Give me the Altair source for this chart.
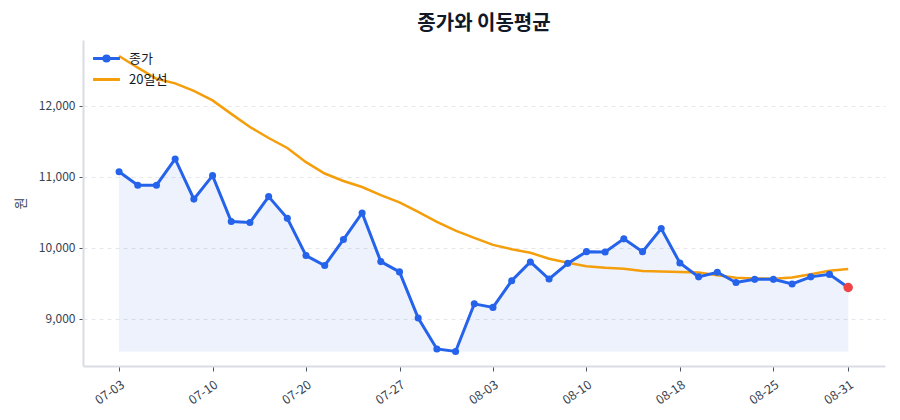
import json

import altair as alt
import pandas as pd

FONT = "Noto Sans CJK KR"

dates = [
    "07-03", "07-04", "07-05", "07-06", "07-07", "07-10", "07-11", "07-13", "07-14", "07-17",
    "07-20", "07-21", "07-24", "07-25", "07-26", "07-27", "07-28", "07-31", "08-01", "08-02",
    "08-03", "08-04", "08-07", "08-08", "08-09", "08-10", "08-11", "08-14", "08-16", "08-17",
    "08-18", "08-21", "08-22", "08-23", "08-24", "08-25", "08-28", "08-29", "08-30", "08-31",
]
close = [
    11070, 10880, 10880, 11250, 10685, 11015, 10370, 10355, 10720, 10415,
    9890, 9750, 10115, 10490, 9805, 9660, 9010, 8575, 8540, 9210,
    9160, 9535, 9800, 9560, 9780, 9945, 9940, 10125, 9945, 10270,
    9785, 9590, 9655, 9510, 9555, 9555, 9490, 9590, 9625, 9440,
]
ma20 = [
    12700, 12535, 12380, 12315, 12210, 12075, 11885, 11700, 11545, 11405,
    11205, 11045, 10940, 10855, 10740, 10640, 10505, 10365, 10240, 10140,
    10040, 9980, 9930, 9845, 9790, 9740, 9718, 9704, 9672, 9665,
    9658, 9652, 9614, 9577, 9568, 9563, 9582, 9627, 9676, 9700,
]
x_ticks = ["07-03", "07-10", "07-20", "07-27", "08-03", "08-10", "08-18", "08-25", "08-31"]
y_ticks = [9000, 10000, 11000, 12000]
series_names = ["종가", "20일선"]
series_colors = ["#2563eb", "#f59e0b"]

# x is the trading-day position; tick labels are looked up from dates
df = pd.DataFrame({"idx": range(len(dates)), "date": dates, "close": close, "ma20": ma20})
df["floor"] = min(close)
last = df.tail(1)
legend_df = pd.DataFrame({"series": series_names})

tick_pos = [dates.index(t) for t in x_ticks]
label_expr = f"{json.dumps(dates, ensure_ascii=False)}[datum.value]"

x_scale = alt.Scale(domain=[-1.93, len(dates) + 0.97], nice=False, zero=False)
x_enc = alt.X(
    "idx:Q",
    scale=x_scale,
    axis=alt.Axis(
        values=tick_pos, labelExpr=label_expr, labelAngle=-35, title=None, grid=False,
        labelFont=FONT, labelFontSize=12.5, labelColor="#374151", labelAlign="right",
        labelBaseline="top", labelPadding=7,
        tickColor="#4b5563", tickSize=5, domainColor="#d9dde3", domainWidth=2,
    ),
)
y_scale = alt.Scale(domain=[8335, 12925], nice=False, zero=False)
y_axis = alt.Axis(
    values=y_ticks, format=",d", title="원", titleFont=FONT, titleFontSize=13,
    titleFontWeight="normal", titleColor="#374151", titlePadding=11,
    labelFont=FONT, labelFontSize=12, labelColor="#374151", labelPadding=4,
    tickColor="#4b5563", tickSize=4, domainColor="#d9dde3", domainWidth=2,
    grid=True, gridColor="#e5e7eb", gridDash=[4, 4],
)

base = alt.Chart(df).encode(x=x_enc)

area = base.mark_area(
    color="#2563eb", opacity=0.08, stroke="#2563eb", strokeOpacity=0.12, strokeWidth=1
).encode(y=alt.Y("close:Q", scale=y_scale, axis=y_axis), y2="floor:Q")

ma_line = base.mark_line(color=series_colors[1], strokeWidth=2.5).encode(y="ma20:Q")
close_line = base.mark_line(color=series_colors[0], strokeWidth=3).encode(y="close:Q")
close_pts = base.mark_circle(color=series_colors[0], size=50, opacity=1).encode(y="close:Q")

last_pt = alt.Chart(last).mark_circle(color="#ef4444", size=90, opacity=1).encode(
    x="idx:Q", y="close:Q"
)

legend_layer = alt.Chart(legend_df).mark_point(filled=False, opacity=0).encode(
    color=alt.Color(
        "series:N",
        scale=alt.Scale(domain=series_names, range=series_colors),
        legend=alt.Legend(
            title=None, orient="none", legendX=13, legendY=8, symbolSize=300,
            symbolStrokeWidth=3, symbolOpacity=1, labelFont=FONT,
            labelFontSize=13, labelColor="#111827", rowPadding=1, labelOffset=12,
        ),
    ),
    shape=alt.Shape(
        "series:N",
        scale=alt.Scale(
            domain=series_names,
            range=[
                "M-1.55,0L1.55,0M-0.3,0a0.3,0.3 0 1,0 0.6,0a0.3,0.3 0 1,0 -0.6,0",
                "M-1.55,0L1.55,0",
            ],
        ),
    ),
)

chart = (
    alt.layer(area, ma_line, close_line, close_pts, last_pt, legend_layer)
    .properties(
        width=802,
        height=326,
        title=alt.TitleParams(
            "종가와 이동평균", font=FONT, fontSize=20, fontWeight="bold",
            color="#111827", anchor="middle", offset=6,
        ),
        autosize=alt.AutoSizeParams(type="none"),
        padding={"left": 75, "top": 32, "right": 7, "bottom": 46},
    )
    .configure_view(stroke=None)
)

chart.save("out.html", embed_options={"renderer": "svg", "actions": False})
